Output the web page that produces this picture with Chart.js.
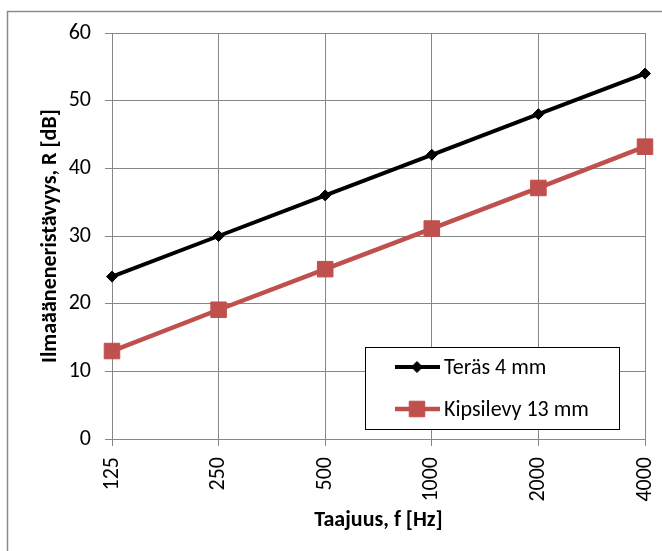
<!DOCTYPE html>
<html>
<head>
<meta charset="utf-8">
<script src="https://cdn.jsdelivr.net/npm/chart.js@4/dist/chart.umd.min.js"></script>
<style>
  html, body { margin: 0; padding: 0; background: #fff; }
  canvas { display: block; }
</style>
</head>
<body>
<canvas id="chart" width="662" height="551"></canvas>
<script>
const taajuudet = ['125', '250', '500', '1000', '2000', '4000'];
const teras = [24, 30, 36, 42, 48, 54];
const kipsilevy = [13.0, 19.1, 25.1, 31.1, 37.1, 43.2];
const yTicks = [0, 10, 20, 30, 40, 50, 60];

const fontFamily = 'Carlito, Calibri, "Open Sans", sans-serif';
const gridColor = '#878787';

// kehys koko kaavion ympärille
const framePlugin = {
  id: 'frame',
  beforeDraw(chart) {
    const ctx = chart.ctx;
    ctx.save();
    ctx.fillStyle = '#fff';
    ctx.fillRect(0, 0, chart.width, chart.height);
    ctx.strokeStyle = '#8c8c8c';
    ctx.lineWidth = 1.5;
    ctx.strokeRect(7.5, 11.5, 720, 620);
    ctx.restore();
  }
};

// selite piirtoalueen sisällä
const insideLegend = {
  id: 'insideLegend',
  afterDatasetsDraw(chart) {
    const ctx = chart.ctx;
    const box = { x: 365.5, y: 347.5, w: 254, h: 82 };
    ctx.save();
    ctx.fillStyle = '#fff';
    ctx.fillRect(box.x, box.y, box.w, box.h);
    ctx.strokeStyle = '#000';
    ctx.lineWidth = 1;
    ctx.strokeRect(box.x, box.y, box.w, box.h);

    const rows = [367, 409];
    chart.data.datasets.forEach((ds, i) => {
      const y = rows[i];
      ctx.strokeStyle = ds.borderColor;
      ctx.lineWidth = ds.borderWidth;
      ctx.beginPath();
      ctx.moveTo(395, y);
      ctx.lineTo(440, y);
      ctx.stroke();
      ctx.fillStyle = ds.pointBackgroundColor;
      ctx.strokeStyle = ds.pointBorderColor;
      ctx.lineWidth = ds.pointBorderWidth;
      Chart.helpers.drawPoint(ctx, {
        pointStyle: ds.pointStyle,
        radius: ds.pointRadius,
        borderWidth: ds.pointBorderWidth
      }, 417, y);
      ctx.fillStyle = '#000';
      ctx.font = '22px ' + fontFamily;
      ctx.textBaseline = 'middle';
      ctx.textAlign = 'left';
      ctx.fillText(ds.label, 444, y + 1);
    });
    ctx.restore();
  }
};

new Chart(document.getElementById('chart'), {
  type: 'line',
  data: {
    labels: taajuudet,
    datasets: [
      {
        label: 'Teräs 4 mm',
        data: teras,
        borderColor: '#000',
        borderWidth: 4,
        pointStyle: 'rectRot',
        pointRadius: 5.5,
        pointBackgroundColor: '#000',
        pointBorderColor: '#000',
        pointBorderWidth: 1,
        tension: 0
      },
      {
        label: 'Kipsilevy 13 mm',
        data: kipsilevy,
        borderColor: '#C0504D',
        borderWidth: 4.5,
        pointStyle: 'rect',
        pointRadius: 11,
        pointBackgroundColor: '#C0504D',
        pointBorderColor: '#C0504D',
        pointBorderWidth: 1,
        tension: 0
      }
    ]
  },
  options: {
    responsive: false,
    animation: false,
    devicePixelRatio: 1,
    layout: { padding: { top: 33, right: 17, bottom: 0, left: 0 } },
    plugins: {
      legend: { display: false },
      tooltip: { enabled: false }
    },
    scales: {
      x: {
        grid: { color: gridColor, lineWidth: 1, tickLength: 7 },
        border: { color: gridColor, width: 1 },
        ticks: {
          color: '#000',
          font: { family: fontFamily, size: 22 },
          minRotation: 90,
          maxRotation: 90,
          padding: 11,
          autoSkip: false
        },
        title: {
          display: true,
          text: 'Taajuus, f [Hz]',
          color: '#000',
          font: { family: fontFamily, size: 22, weight: 'bold' },
          padding: { top: 0, bottom: 17 }
        },
        afterFit(scale) {
          scale.height = 112;
          scale.paddingLeft = 0;
          scale.paddingRight = 0;
        }
      },
      y: {
        min: 0,
        max: 60,
        afterBuildTicks(scale) { scale.ticks = yTicks.map(v => ({ value: v })); },
        grid: { color: gridColor, lineWidth: 1, tickLength: 7 },
        border: { color: gridColor, width: 1 },
        ticks: {
          color: '#000',
          font: { family: fontFamily, size: 22 },
          padding: 14
        },
        title: {
          display: true,
          text: 'Ilmaääneneristävyys, R [dB]',
          color: '#000',
          font: { family: fontFamily, size: 22, weight: 'bold' },
          padding: { top: 37, bottom: 0 }
        },
        afterFit(scale) {
          scale.width = 112;
          scale.paddingTop = 0;
          scale.paddingBottom = 0;
        }
      }
    }
  },
  plugins: [framePlugin, insideLegend]
});
</script>
</body>
</html>
